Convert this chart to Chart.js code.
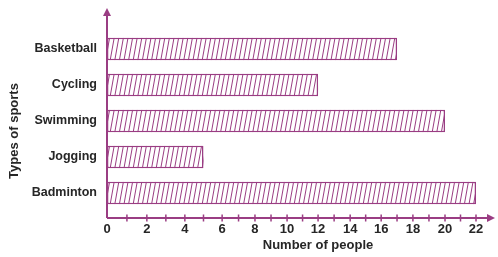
<!DOCTYPE html>
<html>
<head>
<meta charset="utf-8">
<script src="https://cdn.jsdelivr.net/npm/chart.js@4/dist/chart.umd.min.js"></script>
<style>
  html, body { margin: 0; padding: 0; background: #fff; }
  #wrap { width: 498px; height: 257px; }
</style>
</head>
<body>
<div id="wrap"><canvas id="sportsChart"></canvas></div>
<script>
var sports = ["Basketball", "Cycling", "Swimming", "Jogging", "Badminton"];
var people = [17, 12, 20, 5, 22];
var xMax = 22;
var xStep = 2;

var purple = "#9a3d83";
var textColor = "#262626";
var fontFamily = "'Liberation Sans', Arial, sans-serif";

// the printed axis is hand-drawn: the first few intervals are wider than the rest.
// share of the axis length reached at each labelled tick (0, 2, 4 ... 22)
var axisStretch = [0, 0.108, 0.211, 0.312, 0.401, 0.488, 0.572, 0.659, 0.743, 0.829, 0.916, 1];

function stretch(d) {
    var n = axisStretch.length - 1;
    var pos = Math.max(0, Math.min(1, d)) * n;
    var i = Math.min(Math.floor(pos), n - 1);
    return axisStretch[i] + (axisStretch[i + 1] - axisStretch[i]) * (pos - i);
}
function unstretch(f) {
    var n = axisStretch.length - 1;
    for (var i = 0; i < n; i++) {
        if (f <= axisStretch[i + 1] || i == n - 1) {
            return (i + (f - axisStretch[i]) / (axisStretch[i + 1] - axisStretch[i])) / n;
        }
    }
    return 1;
}

class StretchedScale extends Chart.LinearScale {
    getPixelForValue(value) {
        if (value === null) return NaN;
        return this.getPixelForDecimal(stretch((value - this.min) / (this.max - this.min)));
    }
    getValueForPixel(pixel) {
        return this.min + unstretch(this.getDecimalForPixel(pixel)) * (this.max - this.min);
    }
}
StretchedScale.id = 'stretched';
StretchedScale.defaults = Chart.LinearScale.defaults;
Chart.register(StretchedScale);

// hatch lines inside each bar + custom axes with arrows
var hatchAndAxes = {
    id: 'hatchAndAxes',
    afterDatasetsDraw: function (chart) {
        var ctx = chart.ctx;
        var meta = chart.getDatasetMeta(0);
        ctx.save();
        meta.data.forEach(function (bar) {
            var p = bar.getProps(['x', 'y', 'base', 'height'], true);
            var top = p.y - p.height / 2, bottom = p.y + p.height / 2;
            ctx.save();
            ctx.beginPath();
            ctx.rect(p.base, top, p.x - p.base, p.height);
            ctx.clip();
            ctx.strokeStyle = purple;
            ctx.lineWidth = 1;
            ctx.beginPath();
            for (var sx = p.base - 6; sx < p.x + 2; sx += 4.6) {
                ctx.moveTo(sx, bottom);
                ctx.lineTo(sx + 4, top);
            }
            ctx.stroke();
            ctx.restore();
        });
        ctx.restore();
    },
    afterDraw: function (chart) {
        var ctx = chart.ctx;
        var xs = chart.scales.x;
        var area = chart.chartArea;
        var x0 = xs.getPixelForValue(0);
        var axisY = area.bottom + 7;
        ctx.save();
        ctx.strokeStyle = purple;
        ctx.fillStyle = purple;
        ctx.lineWidth = 2;
        // y axis
        ctx.beginPath();
        ctx.moveTo(x0, axisY);
        ctx.lineTo(x0, 14);
        ctx.stroke();
        ctx.beginPath();
        ctx.moveTo(x0, 8);
        ctx.lineTo(x0 - 4, 16);
        ctx.lineTo(x0 + 4, 16);
        ctx.closePath();
        ctx.fill();
        // x axis
        ctx.beginPath();
        ctx.moveTo(x0, axisY);
        ctx.lineTo(488, axisY);
        ctx.stroke();
        ctx.beginPath();
        ctx.moveTo(495, axisY);
        ctx.lineTo(487, axisY - 4);
        ctx.lineTo(487, axisY + 4);
        ctx.closePath();
        ctx.fill();
        // minor ticks
        ctx.lineWidth = 1.5;
        ctx.beginPath();
        for (var v = 1; v <= xMax; v++) {
            var px = xs.getPixelForValue(v);
            ctx.moveTo(px, axisY - 3.5);
            ctx.lineTo(px, axisY + 3.5);
        }
        ctx.stroke();
        // axis titles
        ctx.fillStyle = textColor;
        ctx.font = "bold 13px " + fontFamily;
        ctx.textAlign = "center";
        ctx.textBaseline = "middle";
        ctx.fillText("Number of people", 318, 245);
        ctx.translate(14, 131);
        ctx.rotate(-Math.PI / 2);
        ctx.fillText("Types of sports", 0, 0);
        ctx.restore();
    }
};

new Chart(document.getElementById("sportsChart"), {
    type: 'bar',
    data: {
        labels: sports,
        datasets: [{
            data: people,
            backgroundColor: "#ffffff",
            borderColor: purple,
            borderWidth: 1.5,
            borderSkipped: false,
            barPercentage: 0.62,
            categoryPercentage: 1
        }]
    },
    options: {
        indexAxis: 'y',
        responsive: true,
        maintainAspectRatio: false,
        animation: false,
        layout: {
            padding: { top: 31, right: 22, bottom: 22, left: 0 }
        },
        plugins: {
            legend: { display: false },
            tooltip: { enabled: false }
        },
        scales: {
            x: {
                type: 'stretched',
                min: 0,
                max: xMax,
                grid: { display: false, drawTicks: false },
                border: { display: false },
                afterFit: function (scale) { scale.height = 24; },
                ticks: {
                    stepSize: xStep,
                    padding: 11,
                    maxRotation: 0,
                    color: textColor,
                    font: { family: fontFamily, weight: 'bold', size: 13 }
                }
            },
            y: {
                grid: { display: false, drawTicks: false },
                border: { display: false },
                afterFit: function (scale) { scale.width = 107; },
                ticks: {
                    padding: 10,
                    color: textColor,
                    font: { family: fontFamily, weight: 'bold', size: 12.5 }
                }
            }
        }
    },
    plugins: [hatchAndAxes]
});
</script>
</body>
</html>
